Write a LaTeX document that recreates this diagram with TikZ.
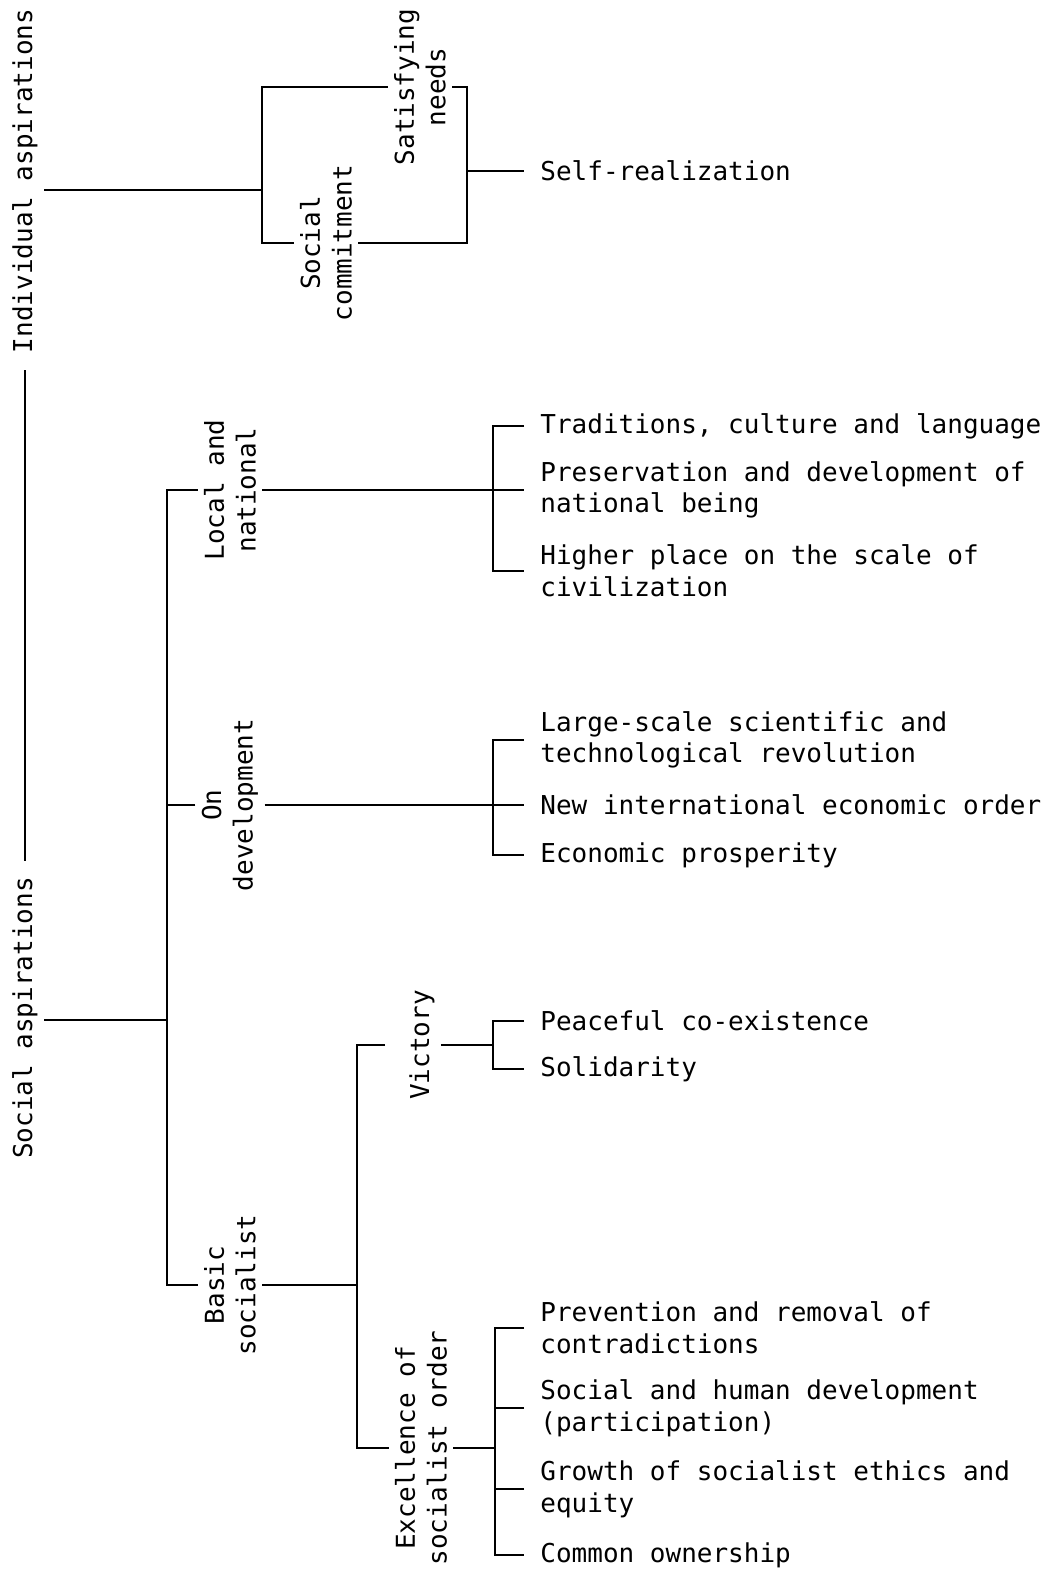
\documentclass[tikz,border=0pt]{standalone}
\usepackage{fontspec}
\setmainfont{DejaVu Sans Mono}
\usepackage{tikz}
\usetikzlibrary{positioning,calc}

\begin{document}
\begin{tikzpicture}[x=0.5pt,y=-0.5pt,
    every node/.style={font=\fontsize{13}{15.8}\selectfont, inner sep=3pt},
    upright/.style={rotate=90, align=center},
    leaf/.style={anchor=west, align=left, inner xsep=8pt},
    tie/.style={line width=0.8pt}
]
\useasboundingbox (0,0) rectangle (1055,1571);

% individual side
\node[upright] (indiv) at (25,181) {Individual aspirations};
\node[upright] (satneeds) at (420,87) {Satisfying\\needs};
\node[upright] (socc) at (326,243) {Social\\commitment};
\node[leaf] (selfr) at (524,171) {Self-realization};
\coordinate (ia) at (262,190);
\coordinate (sr) at (467,171);

\draw[tie] (indiv.south |- ia) -- (ia);
\draw[tie] (satneeds) -| (ia) |- (socc);
\draw[tie] (satneeds) -| (sr) |- (socc);
\draw[tie] (sr) -- (selfr);

% social side
\node[upright] (social) at (25,1018) {Social aspirations};
\coordinate (sa) at (167,1020);
\draw[tie, shorten >=5pt, shorten <=5pt] (social) -- (indiv);
\draw[tie] (social.south |- sa) -- (sa);

\node[upright] (local) at (230,490) {Local and\\national};
\node[upright] (ondev) at (230,805) {On\\development};
\node[upright] (basic) at (230,1285) {Basic\\socialist};
\draw[tie] (local) -| (sa) |- (basic);
\draw[tie] (ondev) -- (ondev -| sa);

% local and national
\node[leaf] (trad) at (524,426) {Traditions, culture and language};
\node[leaf] (pres) at (524,490) {Preservation and development of\\national being};
\node[leaf] (high) at (524,571) {Higher place on the scale of\\civilization};
\coordinate (ln) at (493,490);
\draw[tie] (trad) -| (ln) |- (high);
\draw[tie] (local) -- (pres);

% on development
\node[leaf] (large) at (524,740) {Large-scale scientific and\\technological revolution};
\node[leaf] (neworder) at (524,805) {New international economic order};
\node[leaf] (prosp) at (524,855) {Economic prosperity};
\coordinate (dv) at (493,805);
\draw[tie] (large) -| (dv) |- (prosp);
\draw[tie] (ondev) -- (neworder);

% basic socialist
\node[upright] (victory) at (422,1045) {Victory};
\node[upright] (excel) at (421,1448) {Excellence of\\socialist order};
\coordinate (bj) at (357,1285);
\draw[tie] (basic) -- (bj);
\draw[tie, shorten <=9pt] (victory) -| (bj);
\draw[tie] (bj) |- (excel);

\node[leaf] (peace) at (524,1021) {Peaceful co-existence};
\node[leaf] (solid) at (524,1069) {Solidarity};
\coordinate (vj) at (493,1045);
\draw[tie] (peace) -| (vj) |- (solid);
\draw[tie] (victory) -- (vj);

\node[leaf] (prev) at (524,1328) {Prevention and removal of\\contradictions};
\node[leaf] (socdev) at (524,1408) {Social and human development\\(participation)};
\node[leaf] (growth) at (524,1489) {Growth of socialist ethics and\\equity};
\node[leaf] (common) at (524,1555) {Common ownership};
\coordinate (ej) at (495,1448);
\draw[tie] (prev) -| (ej) |- (common);
\draw[tie] (excel) -- (ej);
\draw[tie] (socdev) -- (socdev -| ej);
\draw[tie] (growth) -- (growth -| ej);
\end{tikzpicture}
\end{document}
